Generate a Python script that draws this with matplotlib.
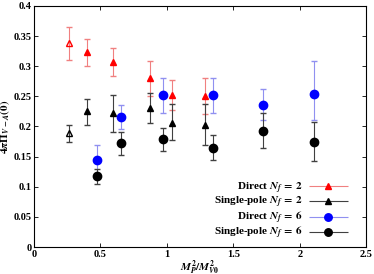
import matplotlib
matplotlib.use("Agg")
import matplotlib.pyplot as plt
from matplotlib.legend_handler import HandlerErrorbar

plt.rcParams['font.family'] = ['Liberation Serif', 'DejaVu Serif']
plt.rcParams['font.weight'] = 'bold'
plt.rcParams['mathtext.fontset'] = 'stix'

# Direct Nf=2 (first point open)
x_d2 = [0.26, 0.40, 0.595, 0.876, 1.04, 1.285]
y_d2 = [0.338, 0.323, 0.307, 0.280, 0.252, 0.251]
lo_d2 = [0.310, 0.300, 0.283, 0.250, 0.228, 0.220]
hi_d2 = [0.365, 0.345, 0.330, 0.308, 0.277, 0.280]

# Single-pole Nf=2 (first point open)
x_s2 = [0.26, 0.40, 0.595, 0.876, 1.04, 1.285]
y_s2 = [0.189, 0.225, 0.222, 0.230, 0.205, 0.203]
lo_s2 = [0.175, 0.203, 0.190, 0.205, 0.177, 0.170]
hi_s2 = [0.202, 0.245, 0.252, 0.255, 0.237, 0.238]

# Direct Nf=6
x_d6 = [0.477, 0.655, 0.971, 1.346, 1.72, 2.11]
y_d6 = [0.144, 0.216, 0.253, 0.252, 0.236, 0.254]
lo_d6 = [0.120, 0.195, 0.223, 0.222, 0.210, 0.210]
hi_d6 = [0.170, 0.235, 0.280, 0.280, 0.262, 0.308]
xe_d6 = [0, 0, 0, 0, 0, 0.02]

# Single-pole Nf=6
x_s6 = [0.477, 0.655, 0.971, 1.346, 1.72, 2.11]
y_s6 = [0.117, 0.173, 0.180, 0.164, 0.193, 0.175]
lo_s6 = [0.105, 0.153, 0.160, 0.145, 0.165, 0.142]
hi_s6 = [0.130, 0.190, 0.197, 0.185, 0.222, 0.208]
xe_s6 = [0, 0, 0, 0, 0, 0.02]

fig = plt.figure(figsize=(3.74, 2.74), dpi=100)
ax = fig.add_axes([0.091, 0.0985, 0.888, 0.88])

def yerr(y, lo, hi):
    return [[a - b for a, b in zip(y, lo)], [b - a for a, b in zip(y, hi)]]

red = '#ff0000'
ered = '#f08080'
blue = '#0000ff'
eblue = '#9090f0'
egray = '#404040'

# open first points
ax.errorbar(x_d2[:1], y_d2[:1], yerr=yerr(y_d2[:1], lo_d2[:1], hi_d2[:1]), fmt='^', ms=5,
            mfc='none', mec=red, ecolor=ered, elinewidth=0.8, capsize=2)
ax.errorbar(x_d2[1:], y_d2[1:], yerr=yerr(y_d2[1:], lo_d2[1:], hi_d2[1:]), fmt='^', ms=5,
            color=red, ecolor=ered, elinewidth=0.8, capsize=2)
ax.errorbar(x_s2[:1], y_s2[:1], yerr=yerr(y_s2[:1], lo_s2[:1], hi_s2[:1]), fmt='^', ms=5,
            mfc='none', mec='k', ecolor=egray, elinewidth=0.8, capsize=2)
ax.errorbar(x_s2[1:], y_s2[1:], yerr=yerr(y_s2[1:], lo_s2[1:], hi_s2[1:]), fmt='^', ms=5,
            color='k', ecolor=egray, elinewidth=0.8, capsize=2)
ax.errorbar(x_d6, y_d6, yerr=yerr(y_d6, lo_d6, hi_d6), xerr=xe_d6, fmt='o', ms=6,
            color=blue, ecolor=eblue, elinewidth=0.8, capsize=2)
ax.errorbar(x_s6, y_s6, yerr=yerr(y_s6, lo_s6, hi_s6), xerr=xe_s6, fmt='o', ms=6,
            color='k', ecolor=egray, elinewidth=0.8, capsize=2)

# legend proxies
h1 = ax.errorbar([], [], xerr=[], fmt='^', ms=5, color=red, ecolor=ered, elinewidth=0.8, capsize=2)
h2 = ax.errorbar([], [], xerr=[], fmt='^', ms=5, color='k', ecolor=egray, elinewidth=0.8, capsize=2)
h3 = ax.errorbar([], [], xerr=[], fmt='o', ms=6, color=blue, ecolor=eblue, elinewidth=0.8, capsize=2)
h4 = ax.errorbar([], [], xerr=[], fmt='o', ms=6, color='k', ecolor=egray, elinewidth=0.8, capsize=2)
hmap = {h: HandlerErrorbar(xerr_size=1.75) for h in [h1, h2, h3, h4]}
ax.legend([h1, h2, h3, h4],
          [r'Direct $N_f\,=\,2$', r'Single-pole $N_f\,=\,2$',
           r'Direct $N_f\,=\,6$', r'Single-pole $N_f\,=\,6$'],
          handler_map=hmap, markerscale=0.9,
          loc='lower right', frameon=False, markerfirst=False, handlelength=3.7,
          fontsize=8, labelspacing=-0.05, borderaxespad=0.1, handletextpad=0.5,
          bbox_to_anchor=(0.965, 0.0))

ax.set_xlim(0, 2.5)
ax.set_ylim(0, 0.4)
ax.set_xticks([0, 0.5, 1, 1.5, 2, 2.5])
ax.set_xticklabels(['0', '0.5', '1', '1.5', '2', '2.5'])
ax.set_yticks([0, 0.05, 0.1, 0.15, 0.2, 0.25, 0.3, 0.35, 0.4])
ax.set_yticklabels(['0', '0.05', '0.1', '0.15', '0.2', '0.25', '0.3', '0.35', '0.4'])
ax.tick_params(direction='in', top=True, right=True, labelsize=7.5, length=3, width=0.6, pad=2)
for s in ax.spines.values():
    s.set_linewidth(0.8)
ax.set_xlabel(r'$M_P^2/M_{V0}^2$', fontsize=8, labelpad=0)
ax.set_ylabel(r'$4\pi\Pi_{V-A}(0)$', fontsize=8, labelpad=1)

fig.savefig('out.png', dpi=100)
